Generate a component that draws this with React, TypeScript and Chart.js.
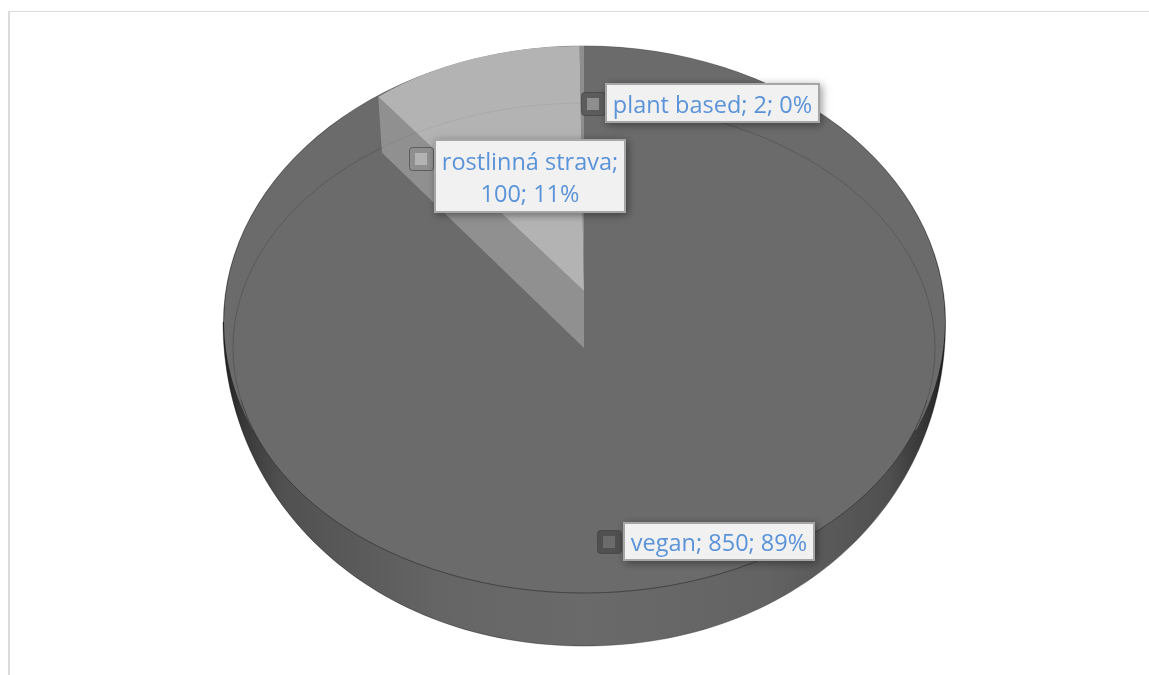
import React, { useEffect, useRef } from "react";
import { Chart, registerables } from "chart.js";

Chart.register(...registerables);

// Slices run clockwise from twelve o'clock.
const categories = ["vegan", "rostlinná strava", "plant based"];
const values = [850, 100, 2];
const sliceColors = ["#6b6b6b", "#b3b3b3", "#8e8e8e"];
const keyRingColors = ["#505050", "#8f8f8f", "#5c5c5c"];

const FONT = '23.5px "Open Sans"';
const TEXT_COLOR = "#5b93d9";

// Affine placements of the unit pie for the lower and raised planes.
const floorPlane = { x: 584, y: 348, a: 351, b: 0, d: 245 };
const wallFootPlane = { x: 584, y: 348, a: 324, b: 5.8, d: 245 };
const raisedPlane = { x: 584, y: 291, a: 330, b: 4.2, d: 245 };

// Label boxes, by category index.
const callouts = [
  { box: [623, 522, 192, 39], key: [597, 530], lines: (t: string[]) => [t.join("; ")], base: [551] },
  { box: [434, 139, 192, 74], key: [409, 147], lines: (t: string[]) => [t[0] + ";", t[1] + "; " + t[2]], base: [170, 202] },
  { box: [605, 83, 215, 40], key: [581, 92], lines: (t: string[]) => [t.join("; ")], base: [113] },
];

function project(plane: any, angle: number) {
  return {
    x: plane.x + plane.a * Math.cos(angle),
    y: plane.y + plane.b * Math.cos(angle) + plane.d * Math.sin(angle),
  };
}

function drawArcOn(ctx: CanvasRenderingContext2D, arc: any, plane: any) {
  const R = arc.outerRadius;
  ctx.save();
  ctx.translate(plane.x, plane.y);
  ctx.transform(plane.a / R, plane.b / R, 0, plane.d / R, 0, 0);
  ctx.translate(-arc.x, -arc.y);
  arc.draw(ctx);
  ctx.restore();
}

function silhouette(ctx: CanvasRenderingContext2D) {
  ctx.beginPath();
  ctx.ellipse(584.5, 322, 361, 276, 0, Math.PI, 2 * Math.PI);
  ctx.bezierCurveTo(946, 505, 794, 646, 584.5, 646);
  ctx.bezierCurveTo(375, 646, 223, 505, 223, 322);
  ctx.closePath();
}

function floorRim(ctx: CanvasRenderingContext2D) {
  ctx.beginPath();
  ctx.ellipse(floorPlane.x, floorPlane.y, floorPlane.a, floorPlane.d, 0, 0, 2 * Math.PI);
}

function drawCallout(ctx: CanvasRenderingContext2D, i: number, total: number) {
  const c = callouts[i];
  const [x, y, w, h] = c.box;
  const [kx, ky] = c.key;

  // Legend key beside the label.
  ctx.save();
  ctx.fillStyle = keyRingColors[i];
  ctx.strokeStyle = "rgba(60,60,60,0.6)";
  ctx.lineWidth = 1;
  ctx.beginPath();
  ctx.roundRect(kx + 0.5, ky + 0.5, 24, 23, 3);
  ctx.fill();
  ctx.stroke();
  ctx.fillStyle = sliceColors[i];
  ctx.fillRect(kx + 6, ky + 6, 12, 12);
  ctx.restore();

  // Box with soft shadow.
  ctx.save();
  ctx.shadowColor = "rgba(0,0,0,0.4)";
  ctx.shadowBlur = 8;
  ctx.shadowOffsetX = 2;
  ctx.shadowOffsetY = 2;
  ctx.fillStyle = "#f1f1f1";
  ctx.fillRect(x, y, w, h);
  ctx.restore();
  ctx.strokeStyle = "#a6a6a6";
  ctx.lineWidth = 2;
  ctx.strokeRect(x + 1, y + 1, w - 2, h - 2);

  const pct = Math.round((values[i] / total) * 100);
  const parts = [categories[i], String(values[i]), pct + "%"];
  ctx.font = FONT;
  ctx.fillStyle = TEXT_COLOR;
  ctx.textAlign = "center";
  ctx.textBaseline = "alphabetic";
  c.lines(parts).forEach((line: string, n: number) => {
    ctx.fillText(line, x + w / 2, c.base[n]);
  });
}

const pie3d = {
  id: "pie3d",
  beforeDatasetDraw(chart: any) {
    const ctx: CanvasRenderingContext2D = chart.ctx;
    const arcs = chart.getDatasetMeta(0).data;

    // Frame of the chart area.
    ctx.fillStyle = "#dcdcdc";
    ctx.fillRect(8, 11, 1141, 1);
    ctx.fillRect(8, 11, 2, 664);

    // Side wall, shaded towards both ends.
    const shade = ctx.createLinearGradient(223, 0, 946, 0);
    shade.addColorStop(0, "#1f1f1f");
    shade.addColorStop(0.025, "#363636");
    shade.addColorStop(0.08, "#505050");
    shade.addColorStop(0.3, "#656565");
    shade.addColorStop(0.5, "#6a6a6a");
    shade.addColorStop(0.75, "#636363");
    shade.addColorStop(0.92, "#505050");
    shade.addColorStop(0.975, "#333333");
    shade.addColorStop(1, "#1a1a1a");
    silhouette(ctx);
    ctx.fillStyle = shade;
    ctx.fill();
    ctx.strokeStyle = "rgba(30,30,30,0.4)";
    ctx.lineWidth = 1;
    ctx.stroke();

    // Flat band round the rim, above where the wall emerges.
    ctx.save();
    ctx.beginPath();
    ctx.rect(200, 30, 780, 400);
    ctx.clip();
    ctx.beginPath();
    ctx.ellipse(584.5, 322, 360.5, 275.5, 0, 0, 2 * Math.PI);
    ctx.fillStyle = sliceColors[0];
    ctx.fill();
    ctx.restore();

    // Largest slice lies on the lower plane.
    floorRim(ctx);
    ctx.fillStyle = sliceColors[0];
    ctx.fill();
    drawArcOn(ctx, arcs[0], floorPlane);
    floorRim(ctx);
    ctx.strokeStyle = "rgba(0,0,0,0.11)";
    ctx.lineWidth = 1;
    ctx.stroke();
    ctx.save();
    ctx.beginPath();
    ctx.rect(200, 400, 780, 260);
    ctx.clip();
    floorRim(ctx);
    ctx.strokeStyle = "rgba(0,0,0,0.22)";
    ctx.stroke();
    ctx.restore();

    // Cut face between the planes, along the start of the raised slices.
    const edge = arcs[1].startAngle;
    const top = project(raisedPlane, edge);
    const foot = project(wallFootPlane, edge);
    ctx.beginPath();
    ctx.moveTo(raisedPlane.x, raisedPlane.y);
    ctx.lineTo(wallFootPlane.x, wallFootPlane.y);
    ctx.lineTo(foot.x, foot.y);
    ctx.lineTo(top.x, top.y);
    ctx.closePath();
    ctx.fillStyle = "#909090";
    ctx.fill();

    // Raised slices.
    drawArcOn(ctx, arcs[1], raisedPlane);
    drawArcOn(ctx, arcs[2], raisedPlane);
    floorRim(ctx);
    ctx.strokeStyle = "rgba(0,0,0,0.05)";
    ctx.stroke();

    return false;
  },
  afterDraw(chart: any) {
    const total = values.reduce((s, v) => s + v, 0);
    values.forEach((_, i) => drawCallout(chart.ctx, i, total));
  },
};

export default function App() {
  const ref = useRef<HTMLCanvasElement>(null);

  useEffect(() => {
    const chart = new Chart(ref.current as HTMLCanvasElement, {
      type: "pie",
      data: {
        labels: categories,
        datasets: [{ data: values, backgroundColor: sliceColors, borderWidth: 0 }],
      },
      options: {
        responsive: false,
        animation: false,
        plugins: { legend: { display: false }, tooltip: { enabled: false } },
      },
      plugins: [pie3d],
    } as any);
    return () => chart.destroy();
  }, []);

  return (
    <div style={{ position: "fixed", left: 0, top: 0, width: 1149, height: 675, background: "#fff" }}>
      <canvas ref={ref} width={1149} height={675} style={{ display: "block" }} />
    </div>
  );
}
